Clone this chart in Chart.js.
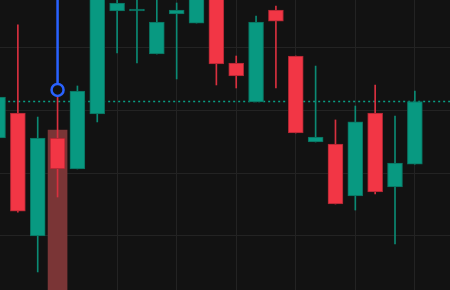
<!DOCTYPE html>
<html>
<head>
<meta charset="utf-8">
<script src="https://cdn.jsdelivr.net/npm/chart.js@4.4.0/dist/chart.umd.min.js"></script>
<style>
  html, body { margin: 0; padding: 0; background: #121212; overflow: hidden; }
  #wrap { width: 450px; height: 290px; }
</style>
</head>
<body>
<div id="wrap"><canvas id="priceChart" width="450" height="290"></canvas></div>
<script>
// candle data
const bars   = [0, 1, 2, 3, 4, 5, 6, 7, 8, 9, 10, 11, 12, 13, 14, 15, 16, 17, 18, 19, 20, 21];
const opens  = [103.282, 103.481, 102.500, 103.282, 103.035, 103.473, 104.295, 104.295, 103.952, 104.271, 104.199,
                104.455, 103.880, 103.569, 104.303, 103.936, 103.250, 103.234, 102.819, 103.481, 102.891, 103.074];
const highs  = [103.665, 104.184, 103.449, 103.609, 103.697, 104.543, 104.503, 104.463, 104.463, 104.359, 104.543,
                104.503, 103.936, 104.255, 104.335, 103.936, 103.856, 103.426, 103.537, 103.705, 103.457, 103.657];
const lows   = [103.226, 102.691, 102.213, 102.811, 103.035, 103.410, 103.960, 103.880, 103.952, 103.753, 104.199,
                103.705, 103.681, 103.569, 103.681, 103.322, 103.250, 102.755, 102.707, 102.835, 102.436, 103.074];
const closes = [103.609, 102.699, 103.282, 103.035, 103.657, 104.463, 104.359, 104.311, 104.207, 104.303, 104.503,
                103.872, 103.777, 104.207, 104.215, 103.322, 103.290, 102.755, 103.410, 102.851, 103.082, 103.573];

// grid positions (no labels shown)
const timeTicks  = [0, 3, 6, 9, 12, 15, 18, 21];
const priceTicks = [102.5, 103, 103.5, 104];

const lastPrice = 103.573;
const markBar = 3;
const markPrice = 103.665;
const hiliteTop = 103.346;

const UP = '#089981', DOWN = '#F23645';
const isUp = bars.map(i => closes[i] >= opens[i]);

const bodyData = bars.map(i => ({ x: i, y: [opens[i], closes[i]] }));
const wickData = bars.map(i => ({ x: i, y: [lows[i], highs[i]] }));

const ctx = document.getElementById('priceChart');
new Chart(ctx, {
  type: 'bar',
  data: {
    datasets: [
      {
        // highlighted column behind the marked candle
        data: [{ x: markBar, y: [101.5, hiliteTop] }],
        backgroundColor: '#7a3536',
        barThickness: 19,
        grouped: false,
        order: 6
      },
      {
        type: 'line',
        data: [{ x: -1, y: lastPrice }, { x: 24, y: lastPrice }],
        borderColor: '#0a9e85',
        borderWidth: 1.5,
        borderDash: [2, 3],
        pointRadius: 0,
        order: 5
      },
      {
        data: wickData,
        backgroundColor: isUp.map(u => u ? '#0b8a74' : '#d8303f'),
        barThickness: 1,
        grouped: false,
        order: 4
      },
      {
        data: bodyData,
        backgroundColor: isUp.map(u => u ? UP : DOWN),
        borderColor: isUp.map(u => u ? '#0a6e5d' : '#a82632'),
        borderWidth: 1,
        borderSkipped: false,
        barThickness: 15,
        grouped: false,
        minBarLength: 2,
        order: 3
      },
      {
        type: 'line',
        data: [{ x: markBar, y: 105 }, { x: markBar, y: markPrice }],
        borderColor: '#2962FF',
        borderWidth: 2.5,
        pointRadius: [0, 6],
        pointBorderWidth: 2.5,
        pointBorderColor: '#2962FF',
        pointBackgroundColor: '#121212',
        order: 1
      }
    ]
  },
  options: {
    responsive: false,
    animation: false,
    layout: { padding: 0, autoPadding: false },
    plugins: { legend: { display: false }, tooltip: { enabled: false } },
    scales: {
      x: {
        type: 'linear',
        min: 0.1,
        max: 22.77,
        offset: false,
        afterBuildTicks: s => { s.ticks = timeTicks.map(v => ({ value: v })); },
        ticks: { display: false },
        grid: { color: '#232323', drawTicks: false, offset: false },
        border: { display: false }
      },
      y: {
        min: 102.069,
        max: 104.383,
        afterBuildTicks: s => { s.ticks = priceTicks.map(v => ({ value: v })); },
        ticks: { display: false },
        grid: { color: '#232323', drawTicks: false },
        border: { display: false }
      }
    }
  }
});
</script>
</body>
</html>
